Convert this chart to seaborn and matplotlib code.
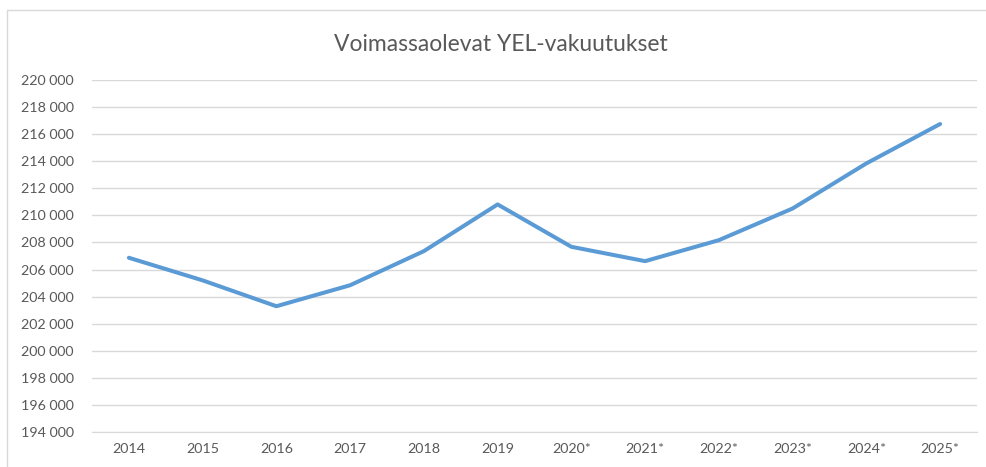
import numpy as np
import pandas as pd
import matplotlib
matplotlib.use("Agg")
import matplotlib.pyplot as plt
from matplotlib.lines import Line2D
from matplotlib.ticker import FuncFormatter
import seaborn as sns

# values
years = ["2014", "2015", "2016", "2017", "2018", "2019",
         "2020*", "2021*", "2022*", "2023*", "2024*", "2025*"]
policies = [206870, 205200, 203290, 204840, 207360, 210810,
            207680, 206620, 208170, 210510, 213840, 216750]
y_ticks = list(range(194000, 220001, 2000))

df = pd.DataFrame({"year": years, "policies": policies})

sns.set_style("white")
plt.rcParams["font.family"] = ["Lato", "DejaVu Sans"]

fig = plt.figure(figsize=(9.86, 4.67), dpi=100)
ax = fig.add_axes([92 / 986, 35 / 467, 885 / 986, 352 / 467])

sns.lineplot(data=df, x="year", y="policies", sort=False, ax=ax,
             color="#5B9BD5", linewidth=2.9, solid_capstyle="round")

ax.set_xlim(-0.5, len(years) - 0.5)
ax.set_ylim(194000, 220000)
ax.set_yticks(y_ticks)
ax.yaxis.set_major_formatter(FuncFormatter(lambda v, p: f"{int(v):,}".replace(",", " ")))
ax.grid(axis="y", color="#D9D9D9", linewidth=1)
ax.set_axisbelow(True)
for s in ["top", "right", "left"]:
    ax.spines[s].set_visible(False)
ax.spines["bottom"].set_color("#D9D9D9")
ax.tick_params(axis="both", length=0, labelsize=10.3, colors="#595959", pad=8)
ax.tick_params(axis="y", pad=13)
ax.set_xlabel("")
ax.set_ylabel("")

fig.text(0.508, 0.905, "Voimassaolevat YEL-vakuutukset", ha="center", va="center",
         fontsize=16.5, color="#595959")

# chart frame
fig.add_artist(Line2D([7 / 986, 1], [1 - 10 / 467, 1 - 10 / 467], color="#D9D9D9", linewidth=1))
fig.add_artist(Line2D([7 / 986, 7 / 986], [0, 1 - 10 / 467], color="#D9D9D9", linewidth=1))

fig.savefig("out.png", dpi=100)
